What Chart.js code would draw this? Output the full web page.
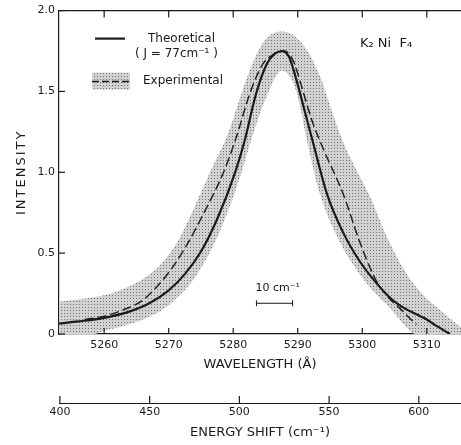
<!DOCTYPE html>
<html>
<head>
<meta charset="utf-8">
<script src="https://cdn.jsdelivr.net/npm/chart.js@4/dist/chart.umd.min.js"></script>
<style>
  body { margin: 0; background: #fff; }
  #wrap { width: 461px; height: 445px; }
</style>
</head>
<body>
<div id="wrap"><canvas id="myChart" width="461" height="445"></canvas></div>
<script>
// wavelength (A) / intensity
const theoWl = [5253, 5256, 5260, 5264, 5267, 5270, 5272.5, 5275, 5277.5, 5280.3, 5281.8, 5283.5, 5285.2, 5286.5, 5287.6, 5288.7, 5289.8, 5291.4, 5292.4, 5294.5, 5297, 5299.6, 5302.3, 5304.7, 5306.5, 5308.5, 5310, 5311.5, 5313.6];
const theoInt = [0.065, 0.078, 0.10, 0.14, 0.19, 0.27, 0.37, 0.51, 0.71, 1.00, 1.20, 1.48, 1.67, 1.735, 1.75, 1.71, 1.57, 1.33, 1.18, 0.87, 0.63, 0.45, 0.31, 0.21, 0.16, 0.12, 0.09, 0.05, 0.0];

const expWl = [5257, 5260, 5263, 5266, 5269.8, 5272.5, 5275.6, 5278.5, 5280.5, 5282.6, 5284.6, 5286.5, 5287.9, 5289.3, 5290.6, 5292.2, 5293.9, 5297, 5299.6, 5301.2, 5302.6, 5304.2, 5305.8, 5307.8, 5308.4];
const expInt = [0.09, 0.11, 0.15, 0.21, 0.37, 0.53, 0.76, 1.00, 1.22, 1.49, 1.67, 1.735, 1.75, 1.69, 1.53, 1.32, 1.15, 0.87, 0.57, 0.41, 0.30, 0.22, 0.16, 0.08, 0.06];

// shaded error band of the experiment
const bandUpWl = [5253, 5256, 5260, 5263, 5266, 5269, 5271.5, 5273.6, 5276.4, 5279.2, 5281.3, 5283.4, 5285.2, 5287.5, 5289.6, 5291.5, 5293.4, 5295.2, 5297, 5299, 5301.2, 5303.8, 5306.9, 5309.5, 5312, 5315.3];
const bandUpInt = [0.20, 0.215, 0.24, 0.28, 0.34, 0.44, 0.58, 0.75, 1.00, 1.24, 1.49, 1.71, 1.83, 1.87, 1.84, 1.75, 1.60, 1.39, 1.19, 1.02, 0.85, 0.60, 0.37, 0.24, 0.15, 0.04];
const bandLoWl = [5253, 5258.5, 5260, 5263, 5266, 5269, 5272.7, 5274.9, 5277.3, 5279.2, 5281.3, 5283.1, 5285.5, 5287.5, 5289.8, 5291.3, 5293.4, 5296.5, 5299.6, 5302, 5304.3, 5306.9, 5308.2, 5311, 5315.3];
const bandLoInt = [0, 0, 0.02, 0.05, 0.09, 0.15, 0.28, 0.40, 0.58, 0.76, 1.00, 1.24, 1.50, 1.63, 1.50, 1.22, 0.87, 0.57, 0.37, 0.25, 0.16, 0.04, 0, 0, 0];

const wlTicks = [5260, 5270, 5280, 5290, 5300, 5310];
const intTicks = [0, 0.5, 1.0, 1.5, 2.0];
const shiftTicks = [400, 450, 500, 550, 600];

const pts = (xs, ys) => xs.map((x, i) => ({x: x, y: ys[i]}));
const FONT = '"DejaVu Sans", sans-serif';
const INK = '#1a1a1a';

function stipple() {
  const c = document.createElement('canvas');
  c.width = 3; c.height = 3;
  const g = c.getContext('2d');
  g.fillStyle = '#d2d2d2';
  g.fillRect(0, 0, 3, 3);
  g.fillStyle = '#707070';
  g.fillRect(1, 1, 1, 1);
  return g.createPattern(c, 'repeat');
}
const dots = stipple();

const decor = {
  id: 'decor',
  afterDraw(chart) {
    const ctx = chart.ctx;
    const {left, right, top, bottom} = chart.chartArea;
    const xs = chart.scales.x, ys = chart.scales.y, es = chart.scales.e;
    const line = (x1, y1, x2, y2) => { ctx.beginPath(); ctx.moveTo(x1, y1); ctx.lineTo(x2, y2); ctx.stroke(); };
    ctx.save();
    ctx.strokeStyle = INK;
    ctx.lineWidth = 1.2;
    line(left, top, right, top);
    wlTicks.forEach(v => {
      const px = xs.getPixelForValue(v);
      line(px, bottom, px, bottom - 6);
      line(px, top, px, top + 7);
    });
    intTicks.forEach(v => {
      const py = ys.getPixelForValue(v);
      line(left, py, left + 6, py);
    });
    shiftTicks.forEach(v => {
      const px = es.getPixelForValue(v);
      line(px, es.top, px, es.top - 7);
    });

    // legend
    ctx.lineWidth = 2.2;
    line(left + 36, top + 28, left + 66, top + 28);
    ctx.fillStyle = dots;
    ctx.fillRect(left + 33, top + 62, 38, 17);
    ctx.lineWidth = 1.5;
    ctx.setLineDash([7, 3]);
    line(left + 33, top + 71, left + 71, top + 71);
    ctx.setLineDash([]);

    ctx.fillStyle = INK;
    ctx.font = '12px ' + FONT;
    ctx.textBaseline = 'middle';
    ctx.textAlign = 'left';
    ctx.fillText('Theoretical', left + 89, top + 28);
    ctx.fillText('( J = 77cm\u207B\u00B9 )', left + 76, top + 43);
    ctx.fillText('Experimental', left + 84, top + 70);
    ctx.font = '13px ' + FONT;
    ctx.fillText('K\u2082 Ni  F\u2084', 360, top + 33);

    // 10 cm-1 scale bar
    const b1 = xs.getPixelForValue(5283.6), b2 = xs.getPixelForValue(5289.2);
    const by = ys.getPixelForValue(0.19);
    ctx.lineWidth = 1;
    line(b1, by, b2, by);
    line(b1, by - 3, b1, by + 3);
    line(b2, by - 3, b2, by + 3);
    ctx.font = '11px ' + FONT;
    ctx.fillText('10 cm\u207B\u00B9', b1 - 1, by - 15);

    // y axis title
    ctx.font = '13px ' + FONT;
    ctx.letterSpacing = '2px';
    ctx.translate(22, (top + bottom) / 2);
    ctx.rotate(-Math.PI / 2);
    ctx.textAlign = 'center';
    ctx.fillText('INTENSITY', 0, 0);
    ctx.restore();
  }
};

const tickFont = {family: FONT, size: 11};
const titleFont = {family: FONT, size: 13};

new Chart(document.getElementById('myChart').getContext('2d'), {
  type: 'line',
  data: {
    datasets: [
      {
        data: pts(theoWl, theoInt),
        borderColor: INK,
        borderWidth: 2.2,
        pointRadius: 0,
        cubicInterpolationMode: 'monotone',
        fill: false,
      },
      {
        data: pts(expWl, expInt),
        borderColor: '#222',
        borderWidth: 1.5,
        borderDash: [9, 4],
        pointRadius: 0,
        cubicInterpolationMode: 'monotone',
        fill: false,
      },
      {
        data: pts(bandUpWl, bandUpInt),
        borderWidth: 0,
        borderColor: 'rgba(0,0,0,0)',
        backgroundColor: dots,
        pointRadius: 0,
        cubicInterpolationMode: 'monotone',
        fill: '+1',
      },
      {
        data: pts(bandLoWl, bandLoInt),
        borderWidth: 0,
        borderColor: 'rgba(0,0,0,0)',
        pointRadius: 0,
        cubicInterpolationMode: 'monotone',
        fill: false,
      },
    ],
  },
  options: {
    responsive: false,
    animation: false,
    events: [],
    layout: { padding: 0 },
    plugins: { legend: { display: false }, tooltip: { enabled: false } },
    scales: {
      x: {
        type: 'linear',
        position: 'bottom',
        weight: 1,
        min: 5253,
        max: 5315.3,
        afterBuildTicks: s => { s.ticks = wlTicks.map(v => ({value: v})); },
        afterFit: s => { s.height = 69; },
        grid: { display: false, drawTicks: false },
        border: { display: true, color: INK, width: 1.2 },
        ticks: { font: tickFont, color: INK, padding: 5, maxRotation: 0, autoSkip: false, callback: v => String(v) },
        title: { display: true, text: 'WAVELENGTH (\u00C5)', font: titleFont, color: INK, padding: {top: 0, bottom: 31} },
      },
      e: {
        type: 'linear',
        position: 'bottom',
        weight: 2,
        min: 399.5,
        max: 623.5,
        afterBuildTicks: s => { s.ticks = shiftTicks.map(v => ({value: v})); },
        afterFit: s => { s.height = 42; },
        grid: { display: false, drawTicks: false },
        border: { display: true, color: INK, width: 1 },
        ticks: { font: tickFont, color: INK, padding: 3, maxRotation: 0, autoSkip: false, callback: v => String(v) },
        title: { display: true, text: 'ENERGY SHIFT (cm\u207B\u00B9)', font: titleFont, color: INK, padding: {top: 0, bottom: 5} },
      },
      y: {
        type: 'linear',
        position: 'left',
        min: 0,
        max: 2.0,
        afterBuildTicks: s => { s.ticks = intTicks.map(v => ({value: v})); },
        afterFit: s => { s.width = 59; },
        grid: { display: false, drawTicks: false },
        border: { display: true, color: INK, width: 1.2 },
        ticks: { font: tickFont, color: INK, padding: 4, callback: v => (v === 0 ? '0' : v.toFixed(1)) },
      },
    },
  },
  plugins: [decor],
});
</script>
</body>
</html>
